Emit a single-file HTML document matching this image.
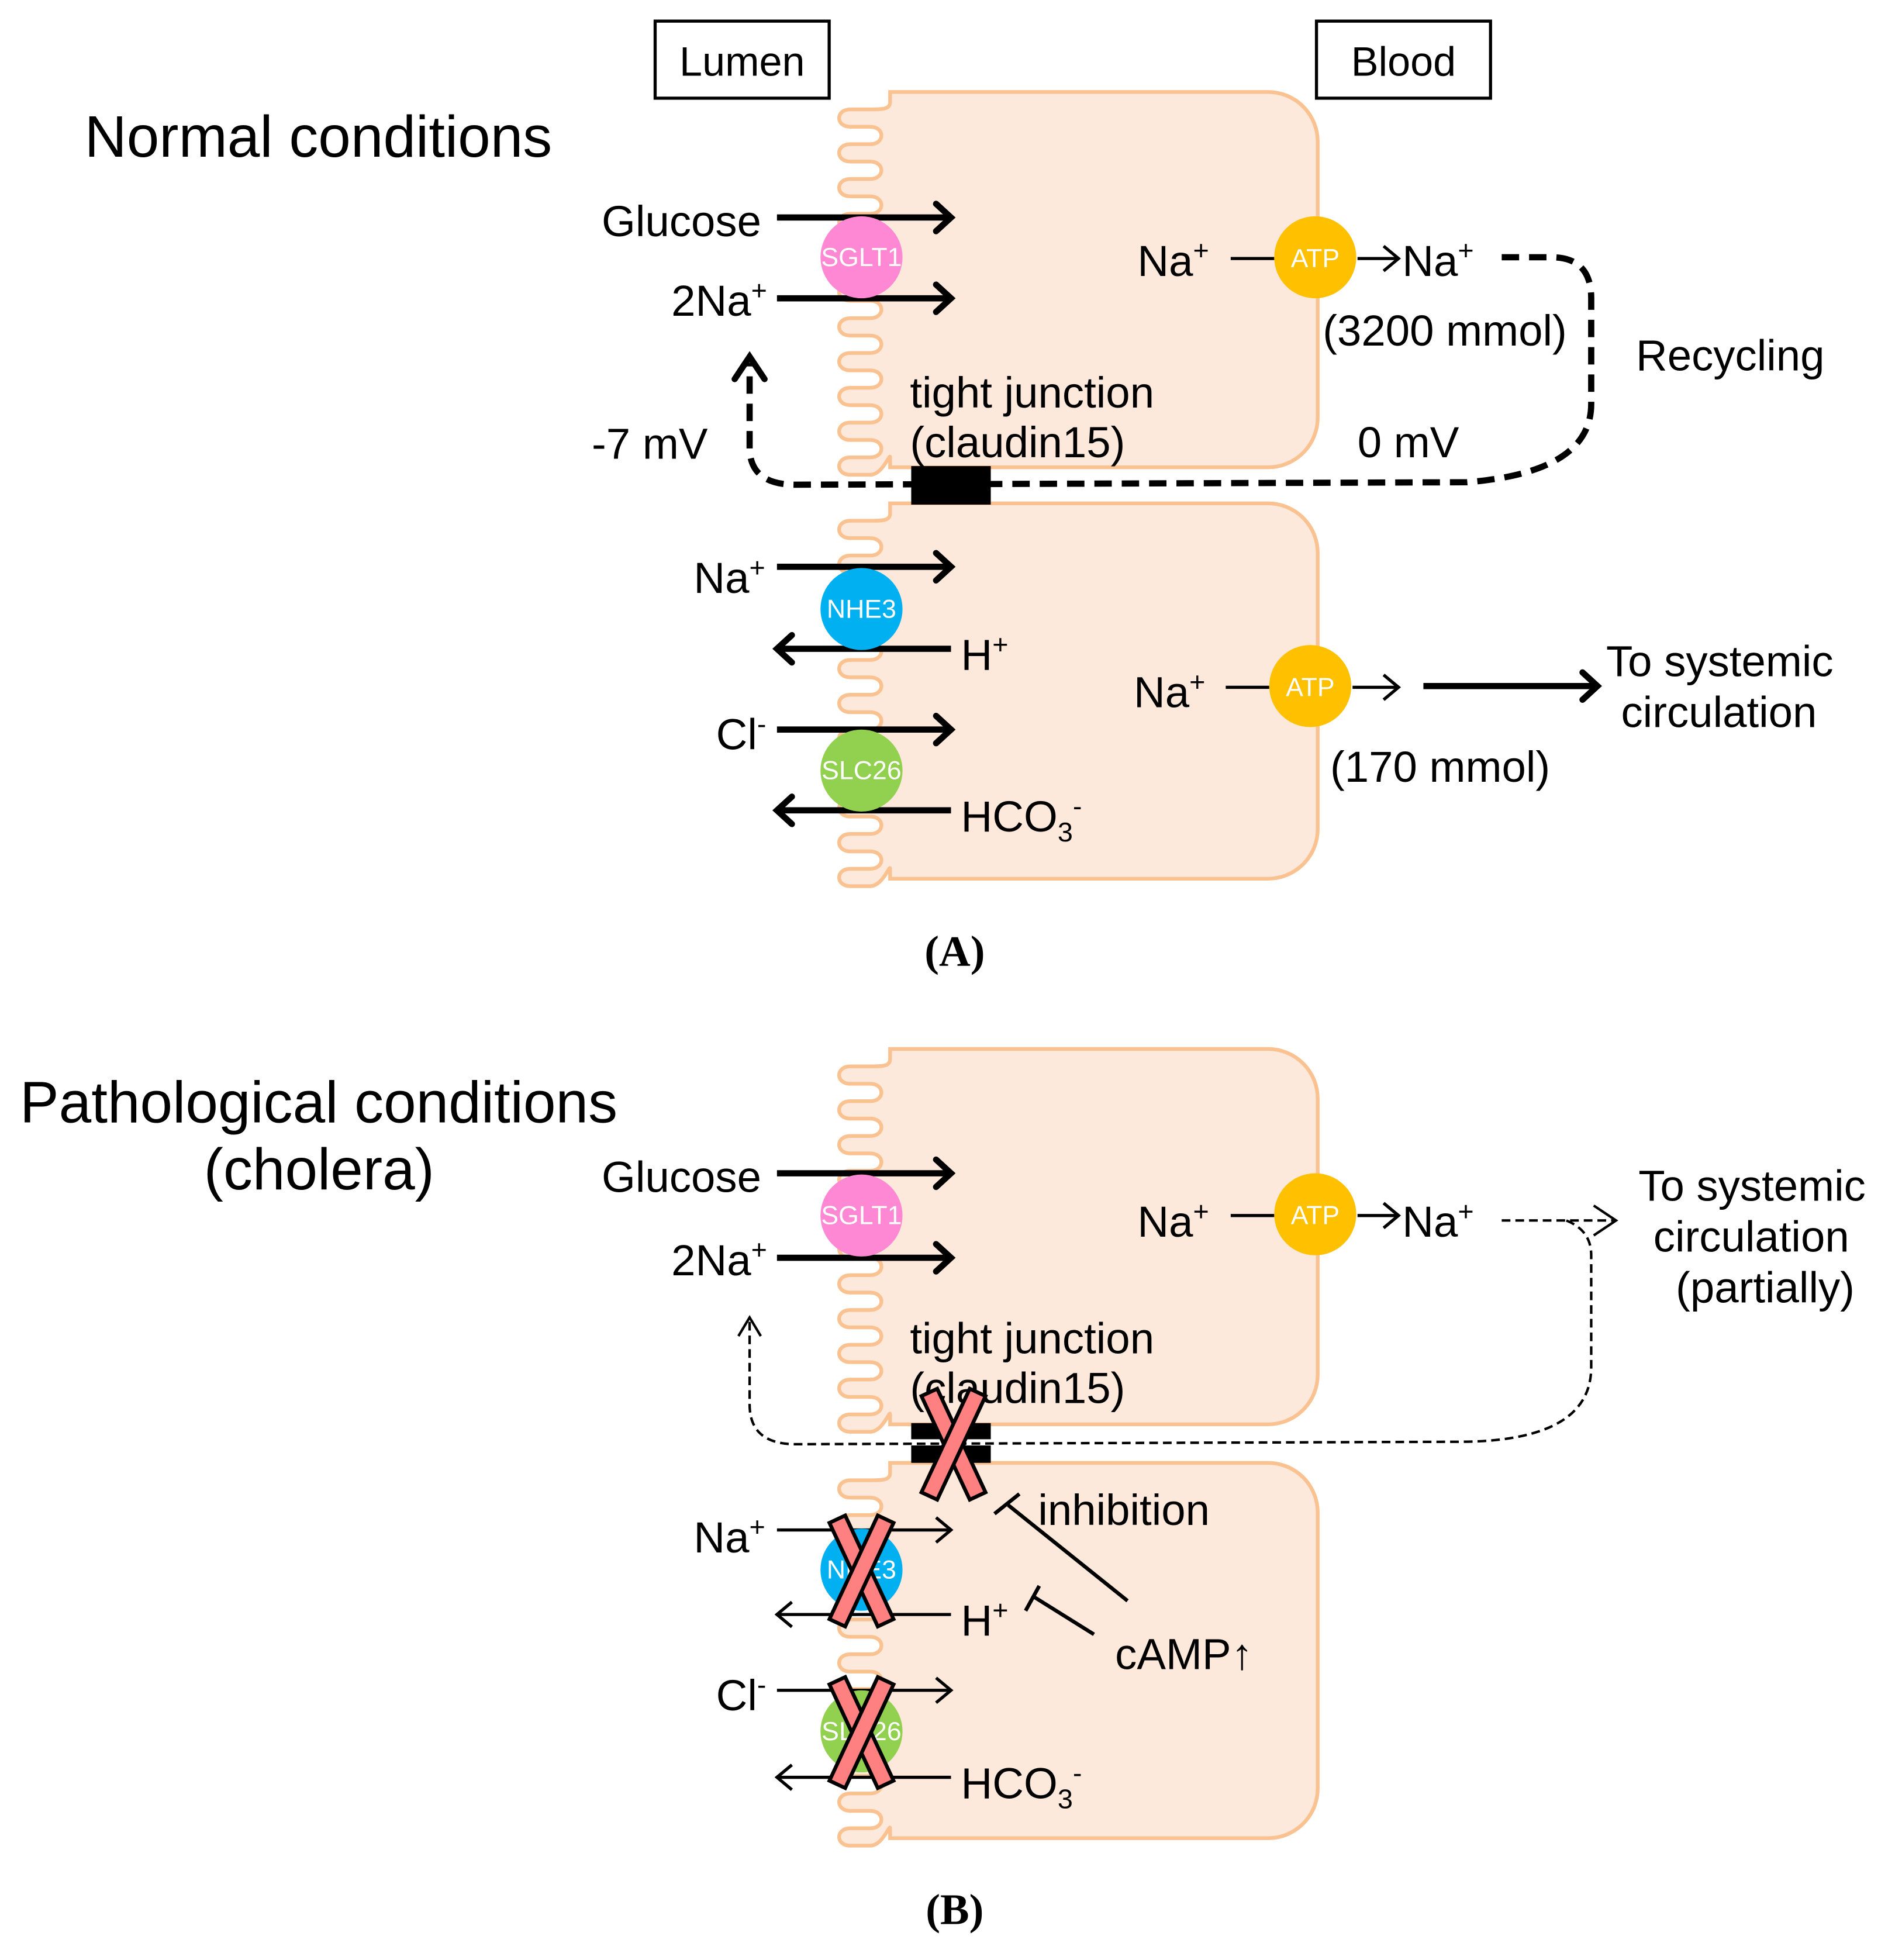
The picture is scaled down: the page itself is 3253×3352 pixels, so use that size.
<!DOCTYPE html>
<html><head><meta charset="utf-8"><style>
html,body{margin:0;padding:0;background:#fff}
svg{display:block}
text{font-family:"Liberation Sans",sans-serif;fill:#000}
.c{fill:#fff;font-size:21px}
</style></head><body>
<svg width="3253" height="3352" viewBox="0 0 1530 1577" preserveAspectRatio="none" xmlns="http://www.w3.org/2000/svg">
<defs>
<path id="cell" d="M716,0 V8 C716,14 710,14 700,14 H684 C672,14 672,28 684,28 H700 C712,28 712,42 700,42 H684 C672,42 672,56 684,56 H700 C712,56 712,70 700,70 H684 C672,70 672,84 684,84 H700 C712,84 712,98 700,98 H684 C672,98 672,112 684,112 H700 C712,112 712,126 700,126 H684 C672,126 672,140 684,140 H700 C712,140 712,154 700,154 H684 C672,154 672,168 684,168 H700 C712,168 712,182 700,182 H684 C672,182 672,196 684,196 H700 C712,196 712,210 700,210 H684 C672,210 672,224 684,224 H700 C712,224 712,238 700,238 H684 C672,238 672,252 684,252 H700 C712,252 712,266 700,266 H684 C672,266 672,280 684,280 H700 C712,280 712,294 700,294 H684 C672,294 672,308 684,308 H700 C710,308 716,290 716,294 V302 H1020 A40,40 0 0 0 1060,262 V40 A40,40 0 0 0 1020,0 Z" fill="#fce9dc" stroke="#f9c290" stroke-width="3"/>
<marker id="th" markerWidth="30" markerHeight="30" refX="26" refY="15" orient="auto" markerUnits="userSpaceOnUse"><path d="M14,4 L26,15 L14,26" fill="none" stroke="#000" stroke-width="5" stroke-linecap="round"/></marker>
<marker id="tn" markerWidth="30" markerHeight="30" refX="26" refY="15" orient="auto" markerUnits="userSpaceOnUse"><path d="M14,5 L26,15 L14,25" fill="none" stroke="#000" stroke-width="2.5"/></marker>
<g id="x"><rect x="-7" y="-46" width="14" height="92" fill="#ff8080" stroke="#000" stroke-width="3" transform="rotate(-25)"/><rect x="-7" y="-46" width="14" height="92" fill="#ff8080" stroke="#000" stroke-width="3" transform="rotate(25)"/></g>
</defs>

<rect x="527" y="17" width="140" height="62" fill="#fff" stroke="#000" stroke-width="2.5"/>
<text x="597" y="61" font-size="33" text-anchor="middle">Lumen</text>
<rect x="1059" y="17" width="140" height="62" fill="#fff" stroke="#000" stroke-width="2.5"/>
<text x="1129" y="61" font-size="33" text-anchor="middle">Blood</text>
<text x="68" y="126" font-size="47">Normal conditions</text>

<use href="#cell" transform="translate(0,74)"/>
<use href="#cell" transform="translate(0,405)"/>

<line x1="625" y1="175" x2="765" y2="175" stroke="#000" stroke-width="5" marker-end="url(#th)"/>
<line x1="625" y1="240" x2="765" y2="240" stroke="#000" stroke-width="5" marker-end="url(#th)"/>
<circle cx="693" cy="207" r="33" fill="#ff88d5"/><text x="693" y="214" class="c" text-anchor="middle">SGLT1</text>
<text x="484" y="190" font-size="35">Glucose</text>
<text x="540" y="254" font-size="35">2Na<tspan dy="-13" font-size="22">+</tspan></text>
<text x="915" y="222" font-size="35">Na<tspan dy="-13" font-size="22">+</tspan></text>
<line x1="990" y1="208" x2="1025" y2="208" stroke="#000" stroke-width="2.5"/>
<circle cx="1058" cy="207" r="33" fill="#ffc000"/><text x="1058" y="215" class="c" text-anchor="middle">ATP</text>
<line x1="1092" y1="208" x2="1125" y2="208" stroke="#000" stroke-width="2.5" marker-end="url(#tn)"/>
<text x="1128" y="222" font-size="35">Na<tspan dy="-13" font-size="22">+</tspan></text>
<text x="1064" y="278" font-size="35">(3200 mmol)</text>
<text x="1316" y="298" font-size="35">Recycling</text>
<text x="732" y="328" font-size="35">tight junction</text>
<text x="732" y="368" font-size="35">(claudin15)</text>
<text x="476" y="369" font-size="35">-7 mV</text>
<text x="1092" y="368" font-size="35">0 mV</text>
<rect x="733" y="375" width="64" height="31" fill="#000"/>
<path d="M1208,207 H1248 Q1280,207 1280,240 V325 Q1280,380 1180,388 L640,390 Q603,390 603,360 V292" fill="none" stroke="#000" stroke-width="5" stroke-dasharray="14,8"/>
<path d="M591,305 L603,287 L615,305" fill="none" stroke="#000" stroke-width="5" stroke-linecap="round"/>

<line x1="625" y1="456" x2="765" y2="456" stroke="#000" stroke-width="5" marker-end="url(#th)"/>
<line x1="765" y1="522" x2="625" y2="522" stroke="#000" stroke-width="5" marker-end="url(#th)"/>
<line x1="625" y1="587" x2="765" y2="587" stroke="#000" stroke-width="5" marker-end="url(#th)"/>
<line x1="765" y1="652" x2="625" y2="652" stroke="#000" stroke-width="5" marker-end="url(#th)"/>
<circle cx="693" cy="490" r="33" fill="#00b0f0"/><text x="693" y="497" class="c" text-anchor="middle">NHE3</text>
<circle cx="693" cy="620" r="33" fill="#92d050"/><text x="693" y="627" class="c" text-anchor="middle">SLC26</text>
<text x="558" y="477" font-size="35">Na<tspan dy="-13" font-size="22">+</tspan></text>
<text x="773" y="539" font-size="35">H<tspan dy="-13" font-size="22">+</tspan></text>
<text x="576" y="603" font-size="35">Cl<tspan dy="-13" font-size="22">-</tspan></text>
<text x="773" y="669" font-size="35">HCO<tspan dy="8" font-size="22">3</tspan><tspan dy="-21" font-size="22">-</tspan></text>
<text x="912" y="569" font-size="35">Na<tspan dy="-13" font-size="22">+</tspan></text>
<line x1="986" y1="553" x2="1021" y2="553" stroke="#000" stroke-width="2.5"/>
<circle cx="1054" cy="552" r="33" fill="#ffc000"/><text x="1054" y="560" class="c" text-anchor="middle">ATP</text>
<line x1="1088" y1="553" x2="1125" y2="553" stroke="#000" stroke-width="2.5" marker-end="url(#tn)"/>
<line x1="1145" y1="552" x2="1285" y2="552" stroke="#000" stroke-width="5" marker-end="url(#th)"/>
<text x="1292" y="544" font-size="35">To systemic</text>
<text x="1304" y="585" font-size="35">circulation</text>
<text x="1070" y="629" font-size="35">(170 mmol)</text>
<text x="768" y="777" font-size="35" font-weight="bold" text-anchor="middle" style="font-family:'Liberation Serif',serif">(A)</text>

<text x="16" y="903" font-size="47">Pathological conditions</text>
<text x="164" y="957" font-size="47">(cholera)</text>
<use href="#cell" transform="translate(0,844)"/>
<use href="#cell" transform="translate(0,1177)"/>
<line x1="625" y1="944" x2="765" y2="944" stroke="#000" stroke-width="5" marker-end="url(#th)"/>
<line x1="625" y1="1012" x2="765" y2="1012" stroke="#000" stroke-width="5" marker-end="url(#th)"/>
<circle cx="693" cy="978" r="33" fill="#ff88d5"/><text x="693" y="985" class="c" text-anchor="middle">SGLT1</text>
<text x="484" y="959" font-size="35">Glucose</text>
<text x="540" y="1026" font-size="35">2Na<tspan dy="-13" font-size="22">+</tspan></text>
<text x="915" y="995" font-size="35">Na<tspan dy="-13" font-size="22">+</tspan></text>
<line x1="990" y1="978" x2="1025" y2="978" stroke="#000" stroke-width="2.5"/>
<circle cx="1058" cy="977" r="33" fill="#ffc000"/><text x="1058" y="985" class="c" text-anchor="middle">ATP</text>
<line x1="1092" y1="978" x2="1125" y2="978" stroke="#000" stroke-width="2.5" marker-end="url(#tn)"/>
<text x="1128" y="995" font-size="35">Na<tspan dy="-13" font-size="22">+</tspan></text>
<path d="M1208,982 H1298" fill="none" stroke="#000" stroke-width="2" stroke-dasharray="7,4"/>
<path d="M1282,970 L1300,982 L1282,994" fill="none" stroke="#000" stroke-width="2"/>
<path d="M1260,982 Q1280,990 1280,1010 V1100 Q1280,1158 1180,1160 L640,1162 Q603,1162 603,1130 V1062" fill="none" stroke="#000" stroke-width="2" stroke-dasharray="7,4"/>
<path d="M594,1075 L603,1060 L612,1075" fill="none" stroke="#000" stroke-width="2"/>
<text x="1318" y="966" font-size="35">To systemic</text>
<text x="1330" y="1007" font-size="35">circulation</text>
<text x="1348" y="1048" font-size="35">(partially)</text>
<text x="732" y="1089" font-size="35">tight junction</text>
<text x="732" y="1129" font-size="35">(claudin15)</text>
<rect x="733" y="1145" width="64" height="13" fill="#000"/>
<rect x="733" y="1163" width="64" height="14" fill="#000"/>
<use href="#x" transform="translate(767,1162)"/>

<line x1="625" y1="1231" x2="765" y2="1231" stroke="#000" stroke-width="2.5" marker-end="url(#tn)"/>
<line x1="765" y1="1299" x2="625" y2="1299" stroke="#000" stroke-width="2.5" marker-end="url(#tn)"/>
<line x1="625" y1="1360" x2="765" y2="1360" stroke="#000" stroke-width="2.5" marker-end="url(#tn)"/>
<line x1="765" y1="1430" x2="625" y2="1430" stroke="#000" stroke-width="2.5" marker-end="url(#tn)"/>
<circle cx="693" cy="1263" r="33" fill="#00b0f0"/><text x="693" y="1270" class="c" text-anchor="middle">NHE3</text>
<circle cx="693" cy="1393" r="33" fill="#92d050"/><text x="693" y="1400" class="c" text-anchor="middle">SLC26</text>
<use href="#x" transform="translate(693,1264)"/>
<use href="#x" transform="translate(693,1394)"/>
<text x="558" y="1249" font-size="35">Na<tspan dy="-13" font-size="22">+</tspan></text>
<text x="773" y="1316" font-size="35">H<tspan dy="-13" font-size="22">+</tspan></text>
<text x="576" y="1376" font-size="35">Cl<tspan dy="-13" font-size="22">-</tspan></text>
<text x="773" y="1447" font-size="35">HCO<tspan dy="8" font-size="22">3</tspan><tspan dy="-21" font-size="22">-</tspan></text>
<path d="M907,1288 L811,1211" stroke="#000" stroke-width="3" fill="none"/>
<path d="M800,1218 L820,1202" stroke="#000" stroke-width="3"/>
<path d="M880,1315 L832,1285" stroke="#000" stroke-width="3" fill="none"/>
<path d="M825,1296 L836,1276" stroke="#000" stroke-width="3"/>
<text x="835" y="1227" font-size="35">inhibition</text>
<text x="897" y="1343" font-size="35">cAMP↑</text>
<text x="768" y="1548" font-size="35" font-weight="bold" text-anchor="middle" style="font-family:'Liberation Serif',serif">(B)</text>
</svg>
</body></html>
